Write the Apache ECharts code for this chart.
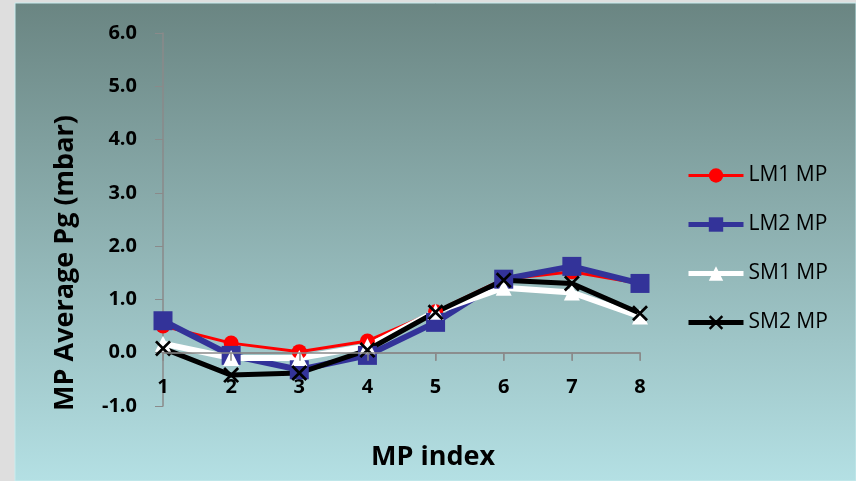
<!DOCTYPE html>
<html>
<head>
<meta charset="utf-8">
<script src="https://cdn.jsdelivr.net/npm/echarts@6/dist/echarts.min.js"></script>
<style>
html,body{margin:0;padding:0;background:#dedede;}
#c{width:856px;height:481px;}
</style>
</head>
<body>
<div id="c"></div>
<script>
const categories = ['1','2','3','4','5','6','7','8'];
const lm1 = [0.50, 0.18, 0.02, 0.22, 0.77, 1.38, 1.52, 1.30];
const lm2 = [0.60, -0.05, -0.32, -0.05, 0.57, 1.38, 1.62, 1.30];
const sm1 = [0.17, -0.10, -0.10, 0.12, 0.77, 1.22, 1.13, 0.68];
const sm2 = [0.08, -0.42, -0.38, 0.05, 0.76, 1.36, 1.30, 0.74];
const yTicks = {min: -1, max: 6, interval: 1};

const FONT = '"Open Sans", Lato, sans-serif';
const xPath = 'path://M0,1.2 L1.2,0 L10,8.8 L8.8,10 Z M8.8,0 L10,1.2 L1.2,10 L0,8.8 Z';
const AXIS_GRAY = '#8a8a8a';

// x-axis baseline at y = 0 plus downward tick marks, drawn in data coordinates
const axisMarks = [
  [{coord: [categories[0], 0]}, {coord: [categories[categories.length - 1], 0]}]
].concat(categories.map(c => [{coord: [c, 0]}, {coord: [c, -0.15]}]));

const chart = echarts.init(document.getElementById('c'));
chart.setOption({
  animation: false,
  textStyle: {fontFamily: FONT},
  graphic: [
    {type: 'rect', z: -10, silent: true,
     shape: {x: 15, y: 3, width: 841, height: 478},
     style: {fill: new echarts.graphic.LinearGradient(0, 0, 0, 1, [
       {offset: 0, color: '#6a8582'}, {offset: 1, color: '#b4e0e4'}]),
       stroke: '#c8ecee', lineWidth: 1}},
    {type: 'text', x: 65, y: 263, rotation: Math.PI / 2,
     style: {text: 'MP Average Pg (mbar)', font: 'bold 27px ' + FONT, fill: '#000',
       textAlign: 'center', textVerticalAlign: 'middle'}},
    {type: 'text', x: 433, y: 457,
     style: {text: 'MP index', font: 'bold 27px ' + FONT, fill: '#000',
       textAlign: 'center', textVerticalAlign: 'middle'}}
  ],
  grid: {left: 163, right: 216, top: 33, bottom: 75},
  legend: {
    orient: 'vertical', left: 686, top: 165, padding: 0,
    itemWidth: 55, itemHeight: 18, itemGap: 28,
    textStyle: {fontSize: 21, color: '#000', fontFamily: FONT},
    data: [
      {name: 'LM1 MP', lineStyle: {width: 3}},
      {name: 'LM2 MP', lineStyle: {width: 5}},
      {name: 'SM1 MP', lineStyle: {width: 5}},
      {name: 'SM2 MP', lineStyle: {width: 5}}
    ]
  },
  xAxis: {
    type: 'category', data: categories, boundaryGap: false,
    axisLine: {onZero: true, onZeroAxisIndex: 0, lineStyle: {color: AXIS_GRAY, width: 1.5}},
    axisTick: {show: true, length: 8, lineStyle: {color: AXIS_GRAY}},
    axisLabel: {margin: -29, fontSize: 20, fontWeight: 'bold', color: '#000'},
    splitLine: {show: false}
  },
  yAxis: {
    type: 'value', min: yTicks.min, max: yTicks.max, interval: yTicks.interval,
    axisLine: {show: true, onZero: false, lineStyle: {color: AXIS_GRAY, width: 1.5}},
    axisTick: {show: true, length: 8, lineStyle: {color: AXIS_GRAY}},
    axisLabel: {margin: 26, fontSize: 20, fontWeight: 'bold', color: '#000',
      formatter: v => v.toFixed(1)},
    splitLine: {show: false}
  },
  series: [
    {name: 'LM1 MP', type: 'line', data: lm1, symbol: 'circle', symbolSize: 15,
     lineStyle: {color: '#ff0000', width: 3}, itemStyle: {color: '#ff0000'},
     markLine: {silent: true, symbol: ['none', 'none'], label: {show: false},
       lineStyle: {color: AXIS_GRAY, width: 1.5, type: 'solid'},
       emphasis: {disabled: true}, data: axisMarks}},
    {name: 'LM2 MP', type: 'line', data: lm2, symbol: 'rect', symbolSize: 19,
     lineStyle: {color: '#333399', width: 6}, itemStyle: {color: '#333399'}},
    {name: 'SM1 MP', type: 'line', data: sm1, symbol: 'triangle', symbolSize: 16,
     lineStyle: {color: '#ffffff', width: 6}, itemStyle: {color: '#ffffff'}},
    {name: 'SM2 MP', type: 'line', data: sm2, symbol: xPath, symbolSize: 16,
     lineStyle: {color: '#000000', width: 5}, itemStyle: {color: '#000000'}}
  ]
});
</script>
</body>
</html>
